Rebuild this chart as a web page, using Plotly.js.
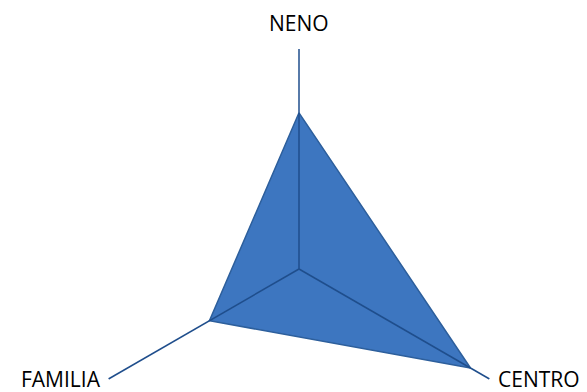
<!DOCTYPE html>
<html><head><meta charset="utf-8">
<script src="https://cdn.plot.ly/plotly-3.0.1.min.js"></script>
<style>html,body{margin:0;padding:0;background:#fff;width:587px;height:392px;overflow:hidden}#chart{width:587px;height:500px}</style>
</head><body><div id="chart"></div>
<script>
var categories = ["NENO", "CENTRO", "FAMILIA"];
var values = [7.1, 9.0, 4.7];
var axisMax = 10;

var closedTheta = categories.concat([categories[0]]);
var closedR = values.concat([values[0]]);

var traces = [{
  type: 'scatterpolar',
  r: closedR,
  theta: closedTheta,
  mode: 'lines',
  fill: 'toself',
  fillcolor: '#3d76c0',
  line: {color: '#2d5f9c', width: 1.5},
  hoverinfo: 'skip',
  showlegend: false
}];
categories.forEach(function (c) {
  traces.push({
    type: 'scatterpolar',
    r: [0, axisMax],
    theta: [c, c],
    mode: 'lines',
    line: {color: '#1f4e8c', width: 1.5},
    hoverinfo: 'skip',
    showlegend: false
  });
});

var H = 500;
var layout = {
  width: 587, height: H,
  margin: {l: 0, r: 0, t: 0, b: 0},
  paper_bgcolor: '#fff',
  showlegend: false,
  font: {family: 'Open Sans', size: 21, color: '#000'},
  annotations: [
    {text: categories[0], xref: 'paper', yref: 'paper', x: 299 / 587, y: 1 - 23 / H, xanchor: 'center', yanchor: 'middle', showarrow: false},
    {text: categories[1], xref: 'paper', yref: 'paper', x: 496 / 587, y: 1 - 379 / H, xanchor: 'left', yanchor: 'middle', showarrow: false},
    {text: categories[2], xref: 'paper', yref: 'paper', x: 103 / 587, y: 1 - 379 / H, xanchor: 'right', yanchor: 'middle', showarrow: false}
  ],
  polar: {
    domain: {x: [79 / 587, 519 / 587], y: [1 - 489 / H, 1 - 49 / H]},
    bgcolor: 'rgba(0,0,0,0)',
    radialaxis: {range: [0, axisMax], visible: false, showgrid: false},
    angularaxis: {
      type: 'category',
      categoryarray: categories,
      rotation: 90,
      direction: 'clockwise',
      showgrid: false,
      showline: false,
      showticklabels: false,
      ticks: ''
    }
  }
};
Plotly.newPlot('chart', traces, layout, {displayModeBar: false, staticPlot: true});
</script></body></html>
